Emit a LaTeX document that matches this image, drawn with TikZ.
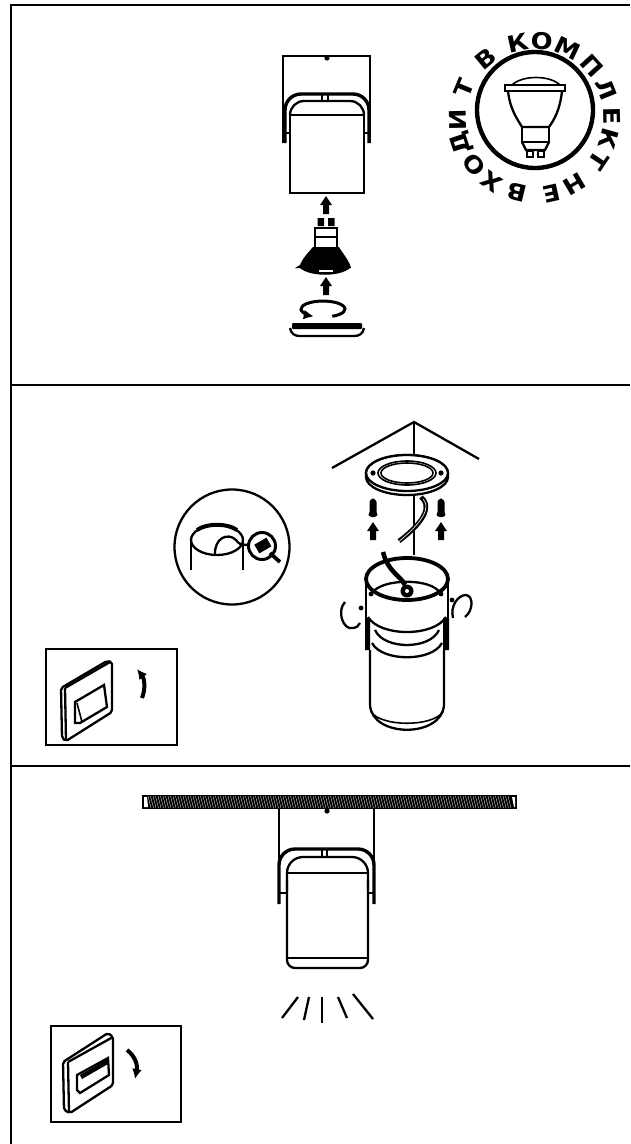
\documentclass[tikz,border=0pt]{standalone}
\usepackage{fontspec}
\newfontfamily\badgefont[Ligatures=TeX]{DejaVu Sans Bold}
\newcommand{\blockarrow}[2]{\fill (#1,#2) -- (#1+6,#2+9) -- (#1+3,#2+9) -- (#1+3,#2+18) -- (#1-3,#2+18) -- (#1-3,#2+9) -- (#1-6,#2+9) -- cycle;}
\newcommand{\screwup}[2]{\fill[rounded corners=1] (#1,#2) -- (#1+3.5,#2+3) -- (#1+3.5,#2+15) -- (#1+5,#2+17) -- (#1+2,#2+19) -- (#1-2,#2+19) -- (#1-5,#2+17) -- (#1-3.5,#2+15) -- (#1-3.5,#2+3) -- cycle;}
\usetikzlibrary{arrows.meta}
\tikzset{
	frameline/.style={line width=2.7pt},
	lampline/.style={line width=2.3pt},
	heavyline/.style={line width=3.4pt,rounded corners=16},
	thinline/.style={line width=1.6pt},
	badgeletter/.style={font=\badgefont\fontsize{23}{23}\selectfont,inner sep=0pt},
	bigtip/.style={-{Latex[length=10pt,width=10pt]}}
}
\begin{document}
\begin{tikzpicture}[x=1pt,y=-1pt]
	\useasboundingbox (0,0) rectangle (630,1144);
	% panels
	\draw[frameline] (11,1144) -- (11,5) -- (630,5);
	\draw[frameline] (11,385) -- (630,385);
	\draw[frameline] (11,766) -- (630,766);
	% first lamp
	\draw[lampline] (283,143) -- (283,56) -- (370,56) -- (370,143);
	\fill (327,58) circle (2.6);
	\draw[heavyline] (285,143) -- (285,94) -- (369,94) -- (369,143);
	\draw[thinline] (322,94) -- (322,101) (328,94) -- (328,101);
	\draw[lampline,rounded corners=14] (290,115) -- (290,101) -- (364,101) -- (364,115);
	\draw[lampline] (290,115) -- (290,193) -- (364,193) -- (364,115) -- cycle;
	\draw[lampline] (285,133) -- (290,133) (364,133) -- (369,133);
	\blockarrow{326}{196}
	% bulb
	\fill (317.5,218) rectangle (324,226) (328,218) rectangle (334.5,226);
	\draw[line width=2.8pt] (315,228) rectangle (337,248) (315,237) -- (337,237);
	\fill (313,247) -- (339,247) .. controls (343,254) and (349,260) .. (351,268) -- (295,268) -- (300,265) .. controls (304,256) and (309,252) .. (313,247) -- cycle;
	\fill (300,268) .. controls (310,277) and (340,277) .. (350,268) -- cycle;
	\fill[white] (319,270) rectangle (333,272);
	\blockarrow{326}{277}
	% ring
	\draw[line width=3pt,bigtip] (332.3,316.3) arc[start angle=65,end angle=-245,x radius=22,y radius=8];
	\fill[rounded corners=1] (292,323) rectangle (362,329);
	\draw[lampline] (290,328) .. controls (291,334) and (295,336) .. (300,336) -- (354,336) .. controls (359,336) and (363,334) .. (364,328);
	% badge
	\draw[line width=4.4pt] (535,110) circle (58);
	\foreach \ch/\ang [count=\i] in {Н/-59.5,Е/-77.5,В/-103.7,Х/-124.7,О/-142.6,Д/-161.6,И/-178.8,Т/157.5,В/129.6,К/102.5,О/85,М/64.6,П/42.3,Л/22,Е/1.2,К/-15.8,Т/-33.7}
		\node[badgeletter,rotate=\ang-90,xscale=1.12] (letter\i) at ([shift={(\ang:77pt)}]535,118) {\ch};
	\draw[thinline] (512,85) .. controls (522,75) and (550,75) .. (560,85);
	\draw[lampline] (505,85) rectangle (565,91);
	\draw[lampline] (508,91) .. controls (510,110) and (518,120) .. (522,127) -- (549,127) .. controls (554,120) and (560,110) .. (562,91);
	\draw[lampline] (522,127) -- (522,142) -- (549,142) -- (549,127);
	\draw[lampline] (522,142) -- (526,150) -- (545,150) -- (549,142);
	\draw[line width=1.8pt] (527,151) rectangle (533,157) (538,151) rectangle (544,157);
	% ceiling corner
	\draw[lampline] (332,468) -- (414,422) -- (479,459);
	\draw[lampline] (414,422) -- (414,555);
	% plate
	\draw[lampline,fill=white] (366,477) -- (366,473) arc[start angle=180,end angle=360,x radius=41,y radius=18] -- (448,477) arc[start angle=0,end angle=180,x radius=41,y radius=18] -- cycle;
	\draw[lampline,fill=white] (407,473) ellipse [x radius=41,y radius=18];
	\draw[thinline] (407,473) ellipse [x radius=29,y radius=12];
	\draw[thinline] (407,473) ellipse [x radius=26,y radius=10];
	\fill (373,473) circle (2.6) (441,473) circle (2.6);
	\screwup{373}{498}
	\screwup{441}{498}
	\blockarrow{373}{522}
	\blockarrow{441}{522}
	% wire
	\draw[line width=4.6pt] (421,497) .. controls (431,505) and (427,520) .. (399,541);
	\draw[white,line width=.6pt] (423,499) .. controls (430,506) and (426,520) .. (397,543);
	% second lamp
	\draw[line width=3.8pt] (407,579) ellipse [x radius=41,y radius=21];
	\draw[lampline] (372,593) .. controls (382,578) and (432,578) .. (440,593);
	\draw[line width=2.6pt] (366,579) -- (366,618) (448,579) -- (448,618);
	\draw[lampline] (368,617) .. controls (380,637) and (434,637) .. (446,617);
	\draw[lampline] (375,630) .. controls (384,650) and (430,650) .. (439,630);
	\draw[lampline] (372,643) .. controls (382,662) and (432,662) .. (442,643);
	\fill (365,618) rectangle (370,650) (443,618) rectangle (449,650);
	\draw[lampline] (370,650) -- (370,705) .. controls (372,738) and (442,738) .. (444,705) -- (444,650);
	\draw[thinline] (371,712) .. controls (382,727) and (432,727) .. (443,712);
	\fill (371,594) circle (2.4) (441,594) circle (2.4);
	\draw[line width=4.6pt] (405,585) .. controls (400,575) and (388,572) .. (383,552);
	\fill (407,591) circle (6.5);
	\fill[white] (407,591) circle (2);
	% side screws
	\fill (361,608) circle (2.4) (452,600) circle (2.4);
	\draw[lampline] (345,602) .. controls (336,612) and (344,630) .. (352,628) .. controls (356,628) and (359,626) .. (360,623);
	\draw[lampline] (453,618) .. controls (450,606) and (458,595) .. (466,595) .. controls (474,596) and (473,611) .. (465,617);
	% detail circle
	\draw[lampline] (232,547) circle (57.5);
	\draw[lampline] (191,570) -- (191,540) (243,570) -- (243,540);
	\draw[lampline] (217,540) ellipse [x radius=26,y radius=15];
	\draw[line width=4pt] (197,530) .. controls (207,523) and (227,523) .. (237,530);
	\draw[lampline] (215,555) .. controls (214,538) and (228,532) .. (236,540) .. controls (240,547) and (250,546) .. (258,540);
	\draw[line width=3pt,fill=white] (262,546) circle (13.5);
	\fill[rotate around={30:(262,546)}] (256,541) rectangle (270,551);
	\draw[line width=3.8pt] (270,553) -- (280,562);
	% first switch
	\draw[lampline] (46,649) rectangle (177,745);
	\draw[lampline,rounded corners=2] (61,688) -- (107,661) -- (112,662) -- (112,712) -- (66,741) -- (62,738) -- cycle;
	\draw[lampline] (65,688) -- (110,662) (65,688) -- (66,740);
	\draw[lampline] (75,702) -- (104,685) -- (107,707) -- (80,723) -- (75,723) -- cycle;
	\draw[thinline] (77,703) -- (82,722);
	\draw[line width=4pt,bigtip] (142,698) .. controls (146,688) and (144,678) .. (137,669);
	% ceiling bar
	\fill (142,795) rectangle (517,809);
	\foreach \i in {148,150.5,...,510}
		\draw[white,line width=.35pt] (\i,796) -- (\i+3,808);
	\fill[white] (144,797) -- (147,797) -- (148,807) -- (144,807) -- cycle;
	\fill[white] (512,797) -- (515,797) -- (515,807) -- (514,807) -- cycle;
	\fill (327,811) circle (2.6);
	% third lamp
	\draw[lampline] (279,809) -- (279,870) (374,809) -- (374,870);
	\draw[heavyline] (279,904) -- (279,849) -- (374,849) -- (374,904);
	\draw[thinline] (322,849) -- (322,857) (327,849) -- (327,857);
	\draw[lampline] (287,873) -- (368,873);
	\draw[lampline,rounded corners=16] (287,890) -- (287,857) -- (368,857) -- (368,890);
	\draw[lampline,rounded corners=8] (287,880) -- (287,968) -- (368,968) -- (368,880);
	\draw[lampline] (287,958) -- (368,958);
	\draw[lampline] (279,893) -- (287,893) (368,893) -- (374,893);
	% light
	\foreach \xa/\ya/\xb/\yb in {282/1018/298/997,304/1020/309/997,322/1023/322/997,347/1018/338/997,373/1019/353/994}
		\draw[lampline] (\xa,\ya) -- (\xb,\yb);
	% second switch
	\draw[lampline] (51,1026) rectangle (181,1122);
	\draw[lampline,rounded corners=2] (63,1062) -- (108,1033) -- (113,1037) -- (113,1085) -- (70,1113) -- (64,1110) -- cycle;
	\draw[lampline] (68,1062) -- (113,1037) (68,1062) -- (69,1112);
	\draw[lampline] (77,1075) -- (108,1058) -- (109,1075) -- (80,1093) -- (77,1090) -- cycle;
	\fill (80,1075) -- (108,1059) -- (108,1064) -- (82,1079) -- cycle;
	\draw[line width=4pt,bigtip] (127,1050) .. controls (134,1055) and (138,1064) .. (135,1079);
\end{tikzpicture}
\end{document}
